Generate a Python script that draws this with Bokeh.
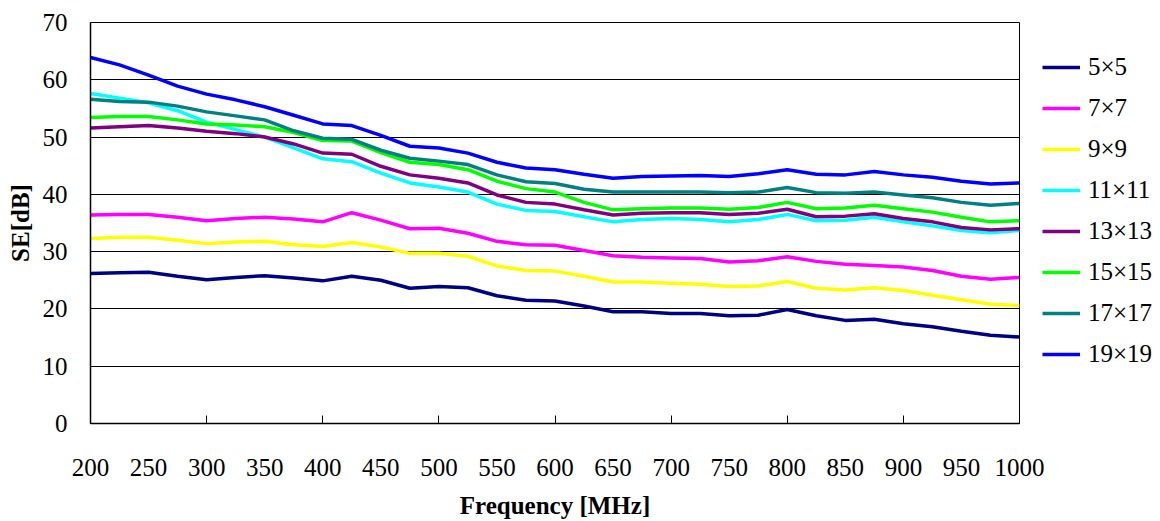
from bokeh.plotting import figure
from bokeh.models import FixedTicker, Legend, LegendItem
from bokeh.embed import file_html
from bokeh.resources import INLINE

# Shielding effectiveness vs. frequency for different mesh sizes
freq = [200, 225, 250, 275, 300, 325, 350, 375, 400, 425, 450, 475, 500,
        525, 550, 575, 600, 625, 650, 675, 700, 725, 750, 775, 800, 825,
        850, 875, 900, 925, 950, 975, 1000]

se_5x5 = [26.2, 26.3, 26.4, 25.7, 25.1, 25.5, 25.8, 25.4, 24.9, 25.7, 25.0, 23.6, 23.9,
          23.7, 22.3, 21.5, 21.4, 20.5, 19.5, 19.5, 19.2, 19.2, 18.8, 18.9, 19.9, 18.8,
          18.0, 18.2, 17.4, 16.9, 16.1, 15.4, 15.1]
se_7x7 = [36.4, 36.5, 36.5, 36.0, 35.4, 35.8, 36.0, 35.7, 35.2, 36.8, 35.5, 34.0, 34.1,
          33.2, 31.8, 31.2, 31.1, 30.2, 29.3, 29.0, 28.9, 28.8, 28.2, 28.4, 29.1, 28.3,
          27.8, 27.6, 27.3, 26.7, 25.7, 25.2, 25.5]
se_9x9 = [32.3, 32.5, 32.5, 32.0, 31.4, 31.7, 31.8, 31.2, 30.9, 31.6, 30.8, 29.7, 29.7,
          29.2, 27.5, 26.7, 26.6, 25.7, 24.7, 24.7, 24.5, 24.3, 23.9, 24.0, 24.8, 23.6,
          23.3, 23.7, 23.2, 22.4, 21.6, 20.8, 20.6]
se_11x11 = [57.6, 56.8, 56.0, 54.6, 52.6, 51.3, 50.0, 48.1, 46.2, 45.7, 43.7, 42.0, 41.3,
            40.4, 38.3, 37.2, 37.0, 36.1, 35.2, 35.6, 35.8, 35.6, 35.2, 35.6, 36.5, 35.4,
            35.5, 36.0, 35.2, 34.5, 33.7, 33.3, 33.7]
se_13x13 = [51.6, 51.8, 52.0, 51.6, 51.0, 50.6, 50.0, 48.8, 47.2, 47.0, 44.9, 43.4, 42.8,
            42.0, 39.9, 38.6, 38.3, 37.3, 36.4, 36.7, 36.8, 36.8, 36.5, 36.7, 37.4, 36.1,
            36.2, 36.6, 35.8, 35.2, 34.2, 33.8, 34.0]
se_15x15 = [53.4, 53.6, 53.6, 53.0, 52.3, 52.1, 51.8, 50.8, 49.4, 49.3, 47.3, 45.6, 45.2,
            44.3, 42.3, 41.0, 40.4, 38.6, 37.3, 37.5, 37.6, 37.6, 37.4, 37.7, 38.6, 37.5,
            37.6, 38.1, 37.5, 36.9, 36.0, 35.2, 35.4]
se_17x17 = [56.6, 56.2, 56.1, 55.4, 54.4, 53.7, 53.0, 51.1, 49.8, 49.6, 47.7, 46.3, 45.8,
            45.2, 43.4, 42.2, 41.9, 40.9, 40.4, 40.4, 40.4, 40.4, 40.3, 40.4, 41.2, 40.3,
            40.2, 40.4, 39.9, 39.4, 38.6, 38.1, 38.4]
se_19x19 = [63.9, 62.6, 60.8, 58.9, 57.5, 56.5, 55.3, 53.8, 52.3, 52.0, 50.3, 48.4, 48.1,
            47.2, 45.6, 44.6, 44.3, 43.5, 42.8, 43.1, 43.2, 43.3, 43.1, 43.6, 44.3, 43.5,
            43.4, 44.0, 43.4, 43.0, 42.3, 41.8, 42.0]

series_labels = ["5×5", "7×7", "9×9", "11×11", "13×13", "15×15", "17×17", "19×19"]
series_values = [se_5x5, se_7x7, se_9x9, se_11x11, se_13x13, se_15x15, se_17x17, se_19x19]
series_colors = ["#000080", "#FF00FF", "#FFFF00", "#00FFFF",
                 "#800080", "#00FF00", "#008080", "#0000FF"]

x_tick_labels = [200, 250, 300, 350, 400, 450, 500, 550, 600, 650, 700, 750, 800, 850, 900, 950, 1000]
x_tick_marks = [200, 300, 400, 500, 600, 700, 800, 900, 1000]
y_ticks = [0, 10, 20, 30, 40, 50, 60, 70]

FONT = "Liberation Serif"

p = figure(width=1160, height=521, frame_width=929, frame_height=401,
           x_range=(200, 1000), y_range=(0, 70),
           output_backend="svg", toolbar_location=None,
           min_border_left=90, min_border_right=141,
           min_border_top=22, min_border_bottom=98)

p.background_fill_color = "white"
p.border_fill_color = "white"
p.outline_line_color = "black"
p.outline_line_width = 1

items = []
for label, vals, color in zip(series_labels, series_values, series_colors):
    r = p.line(freq, vals, line_color=color, line_width=3.5)
    items.append(LegendItem(label=label, renderers=[r]))

# x axis: labels every 50 MHz, short inward tick marks every 100 MHz
xa = p.xaxis[0]
xa.ticker = FixedTicker(ticks=x_tick_labels, minor_ticks=x_tick_marks)
xa.major_tick_line_color = None
xa.major_tick_in = 0
xa.major_tick_out = 0
xa.minor_tick_line_color = "black"
xa.minor_tick_line_width = 1
xa.minor_tick_in = 8
xa.minor_tick_out = 0
xa.axis_line_color = "black"
xa.axis_line_width = 1.5
xa.major_label_standoff = 35
xa.major_label_text_font = FONT
xa.major_label_text_font_size = "25px"
xa.major_label_text_color = "black"
xa.axis_label = "Frequency [MHz]"
xa.axis_label_text_font = FONT
xa.axis_label_text_font_size = "25px"
xa.axis_label_text_font_style = "bold"
xa.axis_label_text_color = "black"
xa.axis_label_standoff = 13

ya = p.yaxis[0]
ya.ticker = FixedTicker(ticks=y_ticks, minor_ticks=[])
ya.major_tick_in = 0
ya.major_tick_out = 0
ya.minor_tick_line_color = None
ya.axis_line_color = "black"
ya.axis_line_width = 1.5
ya.major_label_standoff = 23
ya.major_label_text_font = FONT
ya.major_label_text_font_size = "25px"
ya.major_label_text_color = "black"
ya.axis_label = "SE[dB]"
ya.axis_label_text_font = FONT
ya.axis_label_text_font_size = "25px"
ya.axis_label_text_font_style = "bold"
ya.axis_label_text_color = "black"
ya.axis_label_standoff = 6

p.xgrid.grid_line_color = None
p.ygrid.ticker = FixedTicker(ticks=y_ticks)
p.ygrid.grid_line_color = "black"
p.ygrid.grid_line_width = 1

legend = Legend(items=items, location=(23, 54), orientation="vertical",
                glyph_width=38, glyph_height=30, label_height=30,
                spacing=11, padding=0, margin=0, label_standoff=8,
                label_text_font=FONT, label_text_font_size="25px",
                label_text_color="black",
                border_line_color=None, background_fill_alpha=0)
p.add_layout(legend, "right")

open("out.html", "w").write(file_html(p, INLINE))
